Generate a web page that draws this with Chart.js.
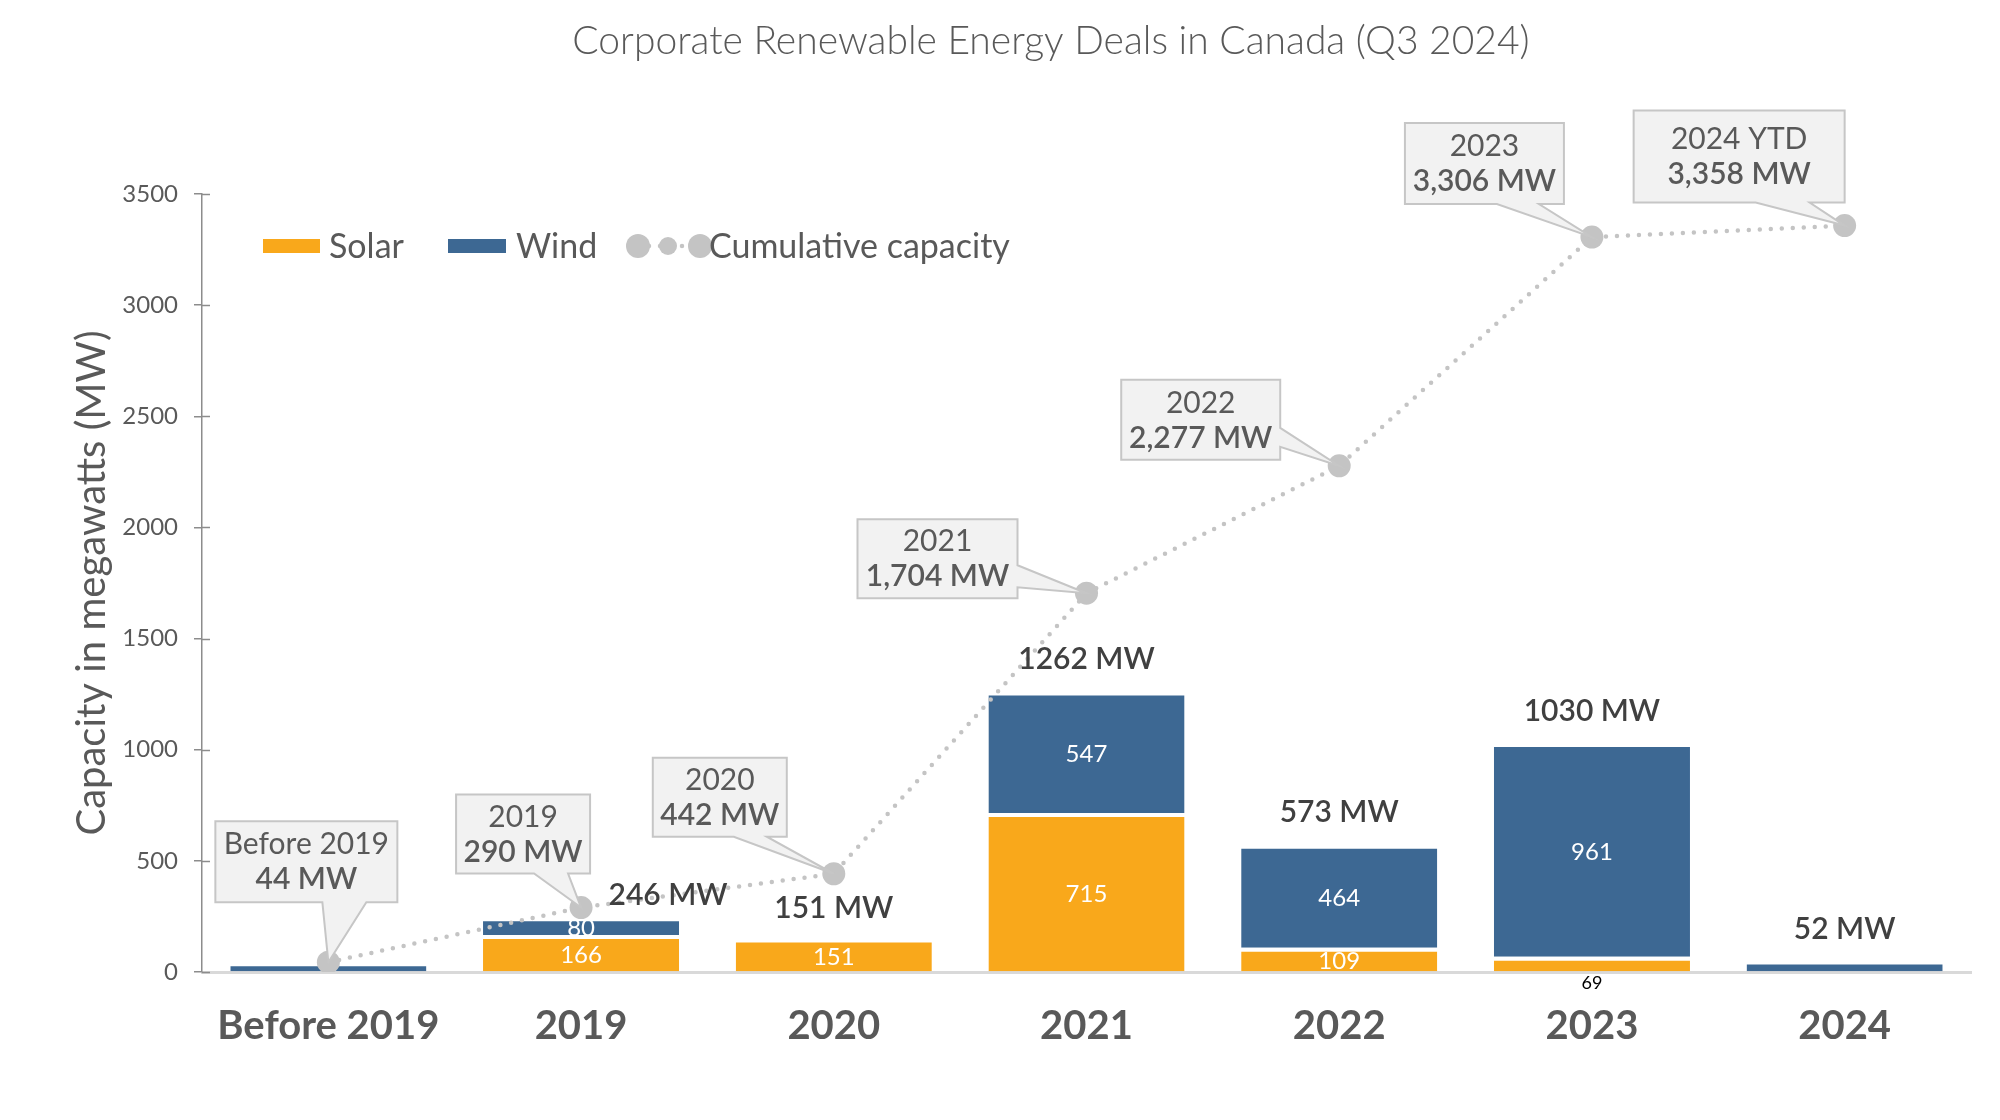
<!DOCTYPE html>
<html>
<head>
<meta charset="utf-8">
<script src="https://cdn.jsdelivr.net/npm/chart.js@4.4.1/dist/chart.umd.min.js"></script>
<style>
  html, body { margin: 0; padding: 0; background: #fff; }
</style>
</head>
<body>
<canvas id="dealsChart" width="2000" height="1120"></canvas>
<script>
// data
var categories = ['Before 2019', '2019', '2020', '2021', '2022', '2023', '2024'];
var solar = [0, 166, 151, 715, 109, 69, 0];
var wind = [44, 80, 0, 547, 464, 961, 52];
var cumulative = [44, 290, 442, 1704, 2277, 3306, 3358];
var calloutTitles = ['Before 2019', '2019', '2020', '2021', '2022', '2023', '2024 YTD'];
var yMax = 3500;
var yStep = 500;

var SOLAR_COLOR = '#F9A81B';
var WIND_COLOR = '#3D6893';
var LINE_COLOR = '#C4C4C4';
var TEXT = '#595959';

// callout boxes, offset from the point they point at
var callouts = [
   { dx: -113, dy: -141, w: 182, h: 81, side: 'bottom', b1: 107, b2: 151 },
   { dx: -125, dy: -113, w: 134, h: 79, side: 'bottom', b1: 78, b2: 112 },
   { dx: -181, dy: -116, w: 134, h: 79, side: 'bottom', b1: 81, b2: 114 },
   { dx: -229, dy: -74, w: 160, h: 79, side: 'right', b1: 46, b2: 68 },
   { dx: -218, dy: -86, w: 159, h: 80, side: 'right', b1: 48, b2: 67 },
   { dx: -187, dy: -114, w: 159, h: 81, side: 'bottom', b1: 92, b2: 134 },
   { dx: -211, dy: -115, w: 211, h: 92, side: 'bottom', b1: 122, b2: 176 }
];
// total label offset from bar top (null = no label)
var totalPos = [null, [87, -22], [0, -30], [0, -32], [0, -32], [0, -32], [0, -31]];

function fmt(n) {
   return n.toLocaleString('en-US');
}

function calloutPath(ctx, px, py, c) {
   var L = px + c.dx, T = py + c.dy, R = L + c.w, B = T + c.h;
   ctx.beginPath();
   ctx.moveTo(L, T);
   ctx.lineTo(R, T);
   if (c.side === 'right') {
      ctx.lineTo(R, T + c.b1);
      ctx.lineTo(px, py);
      ctx.lineTo(R, T + c.b2);
      ctx.lineTo(R, B);
      ctx.lineTo(L, B);
   } else {
      ctx.lineTo(R, B);
      ctx.lineTo(L + c.b2, B);
      ctx.lineTo(px, py);
      ctx.lineTo(L + c.b1, B);
      ctx.lineTo(L, B);
   }
   ctx.closePath();
}

var overlay = {
   id: 'overlay',
   afterDatasetsDraw: function(chart) {
      var ctx = chart.ctx;
      var yScale = chart.scales.y;
      var solarMeta = chart.getDatasetMeta(0);
      var windMeta = chart.getDatasetMeta(1);
      var lineMeta = chart.getDatasetMeta(2);
      ctx.save();
      ctx.textAlign = 'center';
      ctx.textBaseline = 'middle';

      // values inside the segments
      [solar, wind].forEach(function(vals, d) {
         var meta = d === 0 ? solarMeta : windMeta;
         meta.data.forEach(function(bar, i) {
            var v = vals[i];
            if (v >= 80) {
               ctx.font = '24px Lato';
               ctx.fillStyle = '#fff';
               ctx.fillText(v, bar.x, (bar.y + bar.base) / 2 + 2);
            } else if (v > 0 && d === 0) {
               ctx.font = '18px Lato';
               ctx.fillStyle = '#000';
               ctx.fillText(v, bar.x, bar.base + 12);
            }
         });
      });

      // totals above the bars
      ctx.font = '600 30px Lato';
      ctx.fillStyle = '#404040';
      categories.forEach(function(c, i) {
         if (!totalPos[i]) return;
         var total = solar[i] + wind[i];
         var top = yScale.getPixelForValue(total);
         var x = solarMeta.data[i].x;
         ctx.fillText(total + ' MW', x + totalPos[i][0], top + totalPos[i][1]);
      });

      // callouts on the cumulative line
      lineMeta.data.forEach(function(pt, i) {
         var c = callouts[i];
         calloutPath(ctx, pt.x, pt.y, c);
         ctx.fillStyle = '#F2F2F2';
         ctx.fill();
         ctx.lineWidth = 2;
         ctx.strokeStyle = '#C6C6C6';
         ctx.stroke();
         var cx = pt.x + c.dx + c.w / 2;
         var cy = pt.y + c.dy + c.h / 2;
         ctx.fillStyle = TEXT;
         ctx.font = '30px Lato';
         ctx.fillText(calloutTitles[i], cx, cy - 17);
         ctx.font = '600 30px Lato';
         ctx.fillText(fmt(cumulative[i]) + ' MW', cx, cy + 18);
      });
      ctx.restore();
   },
   afterDraw: function(chart) {
      var ctx = chart.ctx;
      var yScale = chart.scales.y;
      ctx.save();

      // title
      ctx.font = '300 39px Lato';
      ctx.fillStyle = TEXT;
      ctx.textAlign = 'center';
      ctx.textBaseline = 'middle';
      ctx.fillText('Corporate Renewable Energy Deals in Canada (Q3 2024)', 1051, 41);

      // tick marks cross the axis
      ctx.strokeStyle = '#8C8C8C';
      ctx.lineWidth = 1.5;
      for (var v = 0; v <= yMax; v += yStep) {
         var ty = Math.round(yScale.getPixelForValue(v)) + 0.5;
         ctx.beginPath();
         ctx.moveTo(yScale.right, ty);
         ctx.lineTo(yScale.right + 8, ty);
         ctx.stroke();
      }

      // legend
      var ds = chart.data.datasets;
      var ly = 246;
      ctx.font = '34px Lato';
      ctx.textAlign = 'left';
      ctx.fillStyle = SOLAR_COLOR;
      ctx.fillRect(263, ly - 7, 57, 14);
      ctx.fillStyle = TEXT;
      ctx.fillText(ds[0].label, 329, ly + 1);
      ctx.fillStyle = WIND_COLOR;
      ctx.fillRect(448, ly - 7, 58, 14);
      ctx.fillStyle = TEXT;
      ctx.fillText(ds[1].label, 516, ly + 1);

      ctx.strokeStyle = LINE_COLOR;
      ctx.lineWidth = 4.5;
      ctx.lineCap = 'round';
      ctx.setLineDash([0, 11]);
      ctx.beginPath();
      ctx.moveTo(638, ly);
      ctx.lineTo(700, ly);
      ctx.stroke();
      ctx.setLineDash([]);
      ctx.fillStyle = LINE_COLOR;
      [[638, 12], [668, 9], [700, 12]].forEach(function(d) {
         ctx.beginPath();
         ctx.arc(d[0], ly, d[1], 0, Math.PI * 2);
         ctx.fill();
      });
      ctx.fillStyle = TEXT;
      ctx.fillText(ds[2].label, 709, ly + 1);
      ctx.restore();
   }
};

var ctx = document.getElementById('dealsChart').getContext('2d');
var chart = new Chart(ctx, {
   data: {
      labels: categories,
      datasets: [{
         type: 'bar',
         label: 'Solar',
         data: solar,
         backgroundColor: SOLAR_COLOR,
         borderColor: '#fff',
         borderWidth: { top: 4, right: 0, bottom: 0, left: 0 },
         borderSkipped: false,
         barPercentage: 0.776,
         categoryPercentage: 1,
         order: 1
      }, {
         type: 'bar',
         label: 'Wind',
         data: wind,
         backgroundColor: WIND_COLOR,
         borderColor: '#fff',
         borderWidth: { top: 4, right: 0, bottom: 0, left: 0 },
         borderSkipped: false,
         barPercentage: 0.776,
         categoryPercentage: 1,
         order: 1
      }, {
         type: 'line',
         label: 'Cumulative capacity',
         data: cumulative,
         borderColor: LINE_COLOR,
         borderWidth: 4.5,
         borderDash: [0, 11],
         borderCapStyle: 'round',
         tension: 0,
         pointRadius: 11.5,
         pointHoverRadius: 11.5,
         pointBackgroundColor: LINE_COLOR,
         pointBorderWidth: 0,
         order: 0
      }]
   },
   options: {
      responsive: false,
      animation: false,
      layout: { padding: { top: 194, right: 29, bottom: 0, left: 0 } },
      plugins: {
         legend: { display: false },
         title: { display: false },
         tooltip: { enabled: false }
      },
      scales: {
         x: {
            stacked: true,
            offset: true,
            grid: { display: false, drawTicks: false },
            border: { display: true, color: '#D9D9D9', width: 3 },
            ticks: {
               color: TEXT,
               padding: 30,
               font: { family: 'Lato', size: 40, weight: 'bold' }
            },
            afterFit: function(scale) { scale.height = 148; }
         },
         y: {
            stacked: true,
            min: 0,
            max: yMax,
            ticks: {
               stepSize: yStep,
               color: TEXT,
               padding: 16,
               font: { family: 'Lato', size: 24 },
               callback: function(v) { return String(v); }
            },
            grid: { drawOnChartArea: false, drawTicks: true, tickLength: 8, color: '#8C8C8C', lineWidth: 1.5 },
            border: { display: true, color: '#8C8C8C', width: 1.5 },
            title: {
               display: true,
               text: 'Capacity in megawatts (MW)',
               color: TEXT,
               font: { family: 'Lato', size: 40 },
               padding: { top: 68, bottom: 0 }
            },
            afterFit: function(scale) { scale.width = 202; }
         }
      }
   },
   plugins: [overlay]
});
</script>
</body>
</html>
